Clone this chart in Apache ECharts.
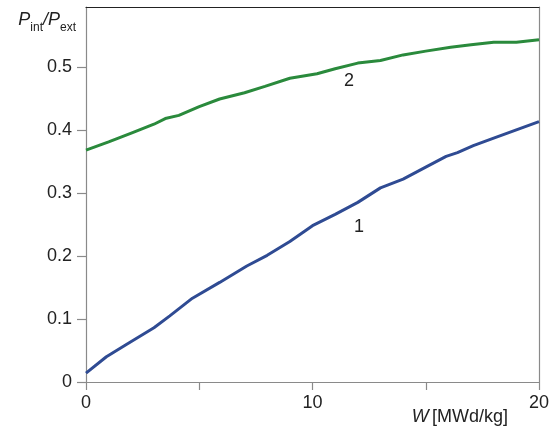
<!DOCTYPE html>
<html>
<head>
<meta charset="utf-8">
<script src="https://cdn.jsdelivr.net/npm/echarts@6/dist/echarts.min.js"></script>
<style>
html,body{margin:0;padding:0;background:#fff;}
#chart{width:559px;height:435px;}
</style>
</head>
<body>
<div id="chart"></div>
<script>
// Curve 2 (green): burnup W [MWd/kg] and Pint/Pext
var w2 = [0, 1, 2, 3, 3.5, 4.1, 5, 5.9, 7, 7.9, 9, 10.2, 11, 12, 13, 14, 15, 16.1, 17, 18, 19, 20];
var p2 = [0.368, 0.381, 0.395, 0.409, 0.418, 0.423, 0.437, 0.449, 0.459, 0.469, 0.482, 0.489, 0.497, 0.506, 0.510, 0.519, 0.525, 0.531, 0.535, 0.539, 0.539, 0.543];
// Curve 1 (blue)
var w1 = [0, 0.9, 1.8, 3, 3.7, 4.7, 5.9, 7.1, 8, 9, 10, 11, 12, 13, 14, 15, 15.9, 16.4, 17.1, 18, 19, 20];
var p1 = [0.014, 0.040, 0.060, 0.086, 0.105, 0.133, 0.158, 0.184, 0.201, 0.223, 0.248, 0.266, 0.285, 0.308, 0.322, 0.341, 0.358, 0.364, 0.375, 0.387, 0.400, 0.413];
var curveLabels = ['1', '2'];

function pairs(xs, ys) { return xs.map(function (x, i) { return [x, ys[i]]; }); }

var FONT = '"Liberation Sans", Arial, sans-serif';
var chart = echarts.init(document.getElementById('chart'));
chart.setOption({
  animation: false,
  backgroundColor: '#fff',
  grid: { left: 86, top: 7, right: 20, bottom: 53, containLabel: false },
  xAxis: [{
    type: 'value', min: 0, max: 20, interval: 5,
    name: '{i|W} {n|[MWd/kg]}',
    nameLocation: 'end', nameGap: -31,
    nameTextStyle: {
      align: 'right', verticalAlign: 'top', padding: [26, 0, 0, 0],
      rich: {
        i: { fontFamily: FONT, fontSize: 18, fontStyle: 'italic', color: '#222' },
        n: { fontFamily: FONT, fontSize: 18, color: '#222' }
      }
    },
    axisLine: { show: true, onZero: false, lineStyle: { color: '#8a8a8a', width: 1.2 } },
    axisTick: { show: true, inside: false, length: 8, lineStyle: { color: '#8a8a8a', width: 1.2 } },
    axisLabel: {
      fontFamily: FONT, fontSize: 18, color: '#222', margin: 12,
      formatter: function (v) { return (v % 10 === 0) ? String(v) : ''; }
    },
    splitLine: { show: false }
  }, {
    type: 'value', min: 0, max: 20, position: 'top',
    axisLine: { show: true, onZero: false, lineStyle: { color: '#222', width: 1.2 } },
    axisTick: { show: false }, axisLabel: { show: false }, splitLine: { show: false }
  }],
  yAxis: [{
    type: 'value', min: 0, max: 0.595, interval: 0.1,
    name: '{i|P}{s|int}{i|/P}{s|ext}',
    nameLocation: 'end', nameGap: -15,
    nameTextStyle: {
      align: 'right', verticalAlign: 'middle', padding: [0, 10, 0, 0],
      rich: {
        i: { fontFamily: FONT, fontSize: 18, fontStyle: 'italic', color: '#222', verticalAlign: 'bottom', padding: [0, 0, 5, 0] },
        s: { fontFamily: FONT, fontSize: 12, color: '#222', verticalAlign: 'bottom' }
      }
    },
    axisLine: { show: true, onZero: false, lineStyle: { color: '#8a8a8a', width: 1.2 } },
    axisTick: { show: true, inside: false, length: 9, lineStyle: { color: '#8a8a8a', width: 1.2 } },
    axisLabel: { fontFamily: FONT, fontSize: 18, color: '#222', margin: 14, showMaxLabel: false },
    splitLine: { show: false }
  }, {
    type: 'value', min: 0, max: 0.595, position: 'right',
    axisLine: { show: true, onZero: false, lineStyle: { color: '#8a8a8a', width: 1.2 } },
    axisTick: { show: false }, axisLabel: { show: false }, splitLine: { show: false }
  }],
  series: [{
    name: curveLabels[1], type: 'line', xAxisIndex: 0, yAxisIndex: 0,
    data: pairs(w2, p2), showSymbol: false, smooth: false,
    lineStyle: { color: '#2a8a3c', width: 3 }
  }, {
    name: curveLabels[0], type: 'line', xAxisIndex: 0, yAxisIndex: 0,
    data: pairs(w1, p1), showSymbol: false, smooth: false,
    lineStyle: { color: '#2f4b93', width: 3 }
  }],
  graphic: [
    { type: 'text', left: 354, top: 218, style: { text: curveLabels[0], font: '18px ' + FONT, fill: '#222' } },
    { type: 'text', left: 344, top: 72, style: { text: curveLabels[1], font: '18px ' + FONT, fill: '#222' } }
  ]
});
</script>
</body>
</html>
